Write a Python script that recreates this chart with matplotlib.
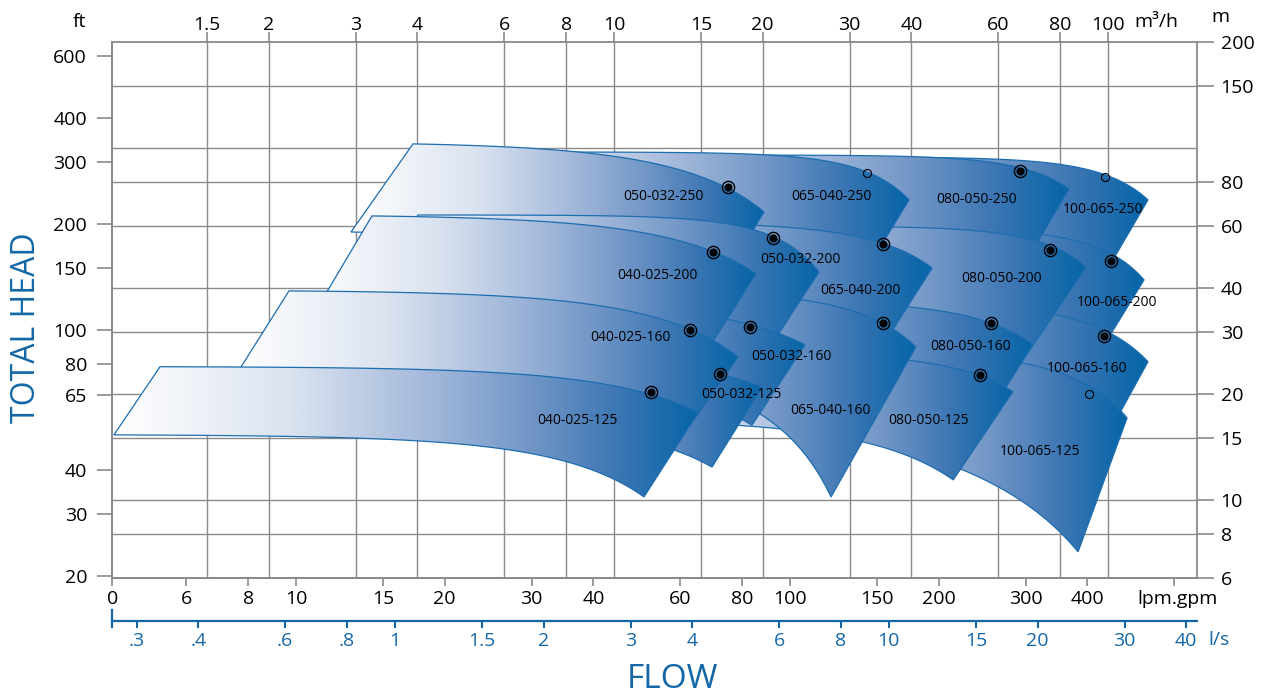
import numpy as np
import matplotlib
matplotlib.use("Agg")
import matplotlib.pyplot as plt
from matplotlib.path import Path
from matplotlib.patches import PathPatch
from matplotlib.image import AxesImage
from matplotlib.colors import LinearSegmentedColormap
from matplotlib.ticker import NullLocator

plt.rcParams["font.family"] = ["Open Sans", "DejaVu Sans"]

BLUE = "#1467a6"
GRID = "#8a8a8a"
EDGE = "#1c6db0"

# ---- axis ticks -------------------------------------------------------
m3h_ticks = [1.5, 2, 3, 4, 6, 8, 10, 15, 20, 30, 40, 60, 80, 100]
m3h_labels = ["1.5", "2", "3", "4", "6", "8", "10", "15", "20", "30", "40", "60", "80", "100"]
m_ticks = [6, 8, 10, 15, 20, 30, 40, 60, 80, 150, 200]
m_grid = [8, 10, 15, 20, 30, 40, 60, 80, 100, 150]
ft_ticks = [20, 30, 40, 65, 80, 100, 150, 200, 300, 400, 600]
gpm_ticks = [4.25, 6, 8, 10, 15, 20, 30, 40, 60, 80, 100, 150, 200, 300, 400, 600]
gpm_labels = ["0", "6", "8", "10", "15", "20", "30", "40", "60", "80", "100", "150",
              "200", "300", "400", ""]
ls_ticks = [0.3, 0.4, 0.6, 0.8, 1, 1.5, 2, 3, 4, 6, 8, 10, 15, 20, 30, 40]
ls_labels = [".3", ".4", ".6", ".8", "1", "1.5", "2", "3", "4", "6", "8", "10", "15",
             "20", "30", "40"]

# ---- pump ranges (flow m3/h, head m), listed back to front ------------
names = ["100-065-250", "100-065-200", "100-065-160", "100-065-125",
         "080-050-250", "080-050-200", "080-050-160", "080-050-125",
         "065-040-250", "065-040-200", "065-040-160",
         "050-032-250", "050-032-200", "050-032-160", "050-032-125",
         "040-025-200", "040-025-160", "040-025-125"]
tl_q = [11.29, 11.29, 11.29, 11.83, 7.78, 9.37, 7.78, 9.37, 5.11, 5.355, 5.355,
        3.918, 4.01, 4.05, 3.975, 3.236, 2.198, 1.205]
tl_h = [94.3, 59.3, 37.0, 26.7, 95.5, 60.0, 37.0, 26.3, 97.4, 61.6, 39.5,
        102.7, 64.5, 37.0, 26.5, 64.1, 39.25, 23.9]
tr_q = [120.5, 118.3, 120.5, 109.3, 83.4, 90.3, 70.5, 64.2, 39.56, 44.04, 40.84,
        20.12, 26.0, 24.36, 19.94, 19.38, 17.83, 14.8]
tr_h = [71.2, 42.2, 24.7, 17.1, 76.5, 45.9, 27.6, 20.3, 71.2, 45.6, 27.2,
        65.8, 44.4, 27.6, 20.9, 43.9, 25.5, 17.7]
br_q = [100.9, 94.1, 98.6, 86.97, 69.5, 69.5, 56.4, 48.6, 31.5, 34.56, 27.5,
        16.09, 20.5, 19.02, 15.79, 15.36, 14.25, 11.5]
br_h = [46.5, 25.0, 14.8, 7.12, 49.7, 26.7, 16.9, 11.4, 42.2, 26.7, 10.2,
        39.0, 26.7, 16.3, 12.4, 26.3, 16.3, 10.2]
bl_q = [9.37, 9.37, 9.37, 30.0, 6.45, 7.78, 6.45, 7.78, 3.864, 4.05, 4.443,
        2.935, 2.788, 3.207, 3.19, 2.314, 1.717, 0.972]
bl_h = [53.0, 32.5, 23.4, 15.07, 53.0, 34.7, 25.0, 16.9, 54.8, 32.5, 25.0,
        57.7, 30.4, 23.1, 17.1, 29.0, 22.65, 15.3]
top_power = [4, 4, 3, 3, 4, 4, 3, 3, 4, 3, 3, 2, 4, 2, 2, 2, 2, 2]
bot_power = [2, 2, 2, 1, 2, 2, 2, 2, 2, 2, 2, 2, 2, 2, 2, 2, 2, 2]
label_q = [97.7, 104.3, 90.7, 72.8, 54.3, 61.0, 52.8, 43.4, 27.5, 31.5, 27.36,
           12.57, 23.8, 22.82, 18.07, 12.22, 10.82, 8.42]
label_h = [66.7, 36.5, 23.7, 13.7, 71.2, 42.7, 27.2, 16.8, 72.6, 39.3, 18.0,
           72.6, 48.1, 25.5, 19.9, 43.3, 29.0, 16.8]

# best efficiency points
bep_q = [17.01, 66.3, 15.9, 20.99, 34.96, 76.3, 101.4, 14.25, 18.85, 34.96, 57.95,
         98.2, 11.86, 16.39, 55.06]
bep_h = [77.5, 86.2, 50.5, 55.5, 53.2, 51.3, 47.8, 30.4, 31.0, 31.8, 31.8,
         29.3, 20.3, 22.8, 22.6]
open_q = [32.46, 98.4, 91.5]
open_h = [85.1, 82.9, 20.0]

fig = plt.figure(figsize=(12.67, 6.96), dpi=100)
ax = fig.add_axes([112 / 1267, 118 / 696, 1085 / 1267, 536 / 696])
ax.set_xscale("log")
ax.set_yscale("log")
XLIM = (0.9634, 151.4)
YLIM = (6, 200)
ax.set_xlim(*XLIM)
ax.set_ylim(*YLIM)

for q in m3h_ticks:
    ax.axvline(q, color=GRID, lw=1.0, zorder=0.5)
for h in m_grid:
    ax.axhline(h, color=GRID, lw=1.0, zorder=0.5)

cmap = LinearSegmentedColormap.from_list(
    "pump", [(0, "#ffffff"), (0.3, "#dbe3f0"), (0.55, "#a0b6d9"),
             (0.72, "#6f95c6"), (0.87, "#3a75b3"), (1.0, "#0565a7")])
grad = np.linspace(0, 1, 256).reshape(1, -1)


def curve(q0, h0, q1, h1, n, num=80):
    k = (h0 - h1) / (q1 ** n - q0 ** n)
    c = h0 + k * q0 ** n
    q = np.geomspace(q0, q1, num)
    return q, c - k * q ** n


def axfrac(q, h):
    return ax.transAxes.inverted().transform(ax.transData.transform((q, h)))


for i, name in enumerate(names):
    z = 10 + i
    tq, th = curve(tl_q[i], tl_h[i], tr_q[i], tr_h[i], top_power[i])
    bq, bh = curve(bl_q[i], bl_h[i], br_q[i], br_h[i], bot_power[i])
    verts = np.vstack([np.column_stack([tq, th]),
                       np.column_stack([bq[::-1], bh[::-1]]),
                       [[tq[0], th[0]]]])
    codes = [Path.MOVETO] + [Path.LINETO] * (len(verts) - 2) + [Path.CLOSEPOLY]
    patch = PathPatch(Path(verts, codes), facecolor="none", edgecolor=EDGE,
                      lw=0.9, zorder=z + 0.5)
    ax.add_patch(patch)
    u0 = axfrac(min(tl_q[i], bl_q[i]), tl_h[i])[0]
    u1 = axfrac(tr_q[i], tr_h[i])[0]
    im = AxesImage(ax, cmap=cmap, interpolation="bilinear",
                   extent=[u0, u1, 0, 1], transform=ax.transAxes, zorder=z)
    im.set_data(grad)
    im.set_clip_path(patch)
    ax.add_image(im)
    ax.text(label_q[i], label_h[i], name, ha="center", va="center",
            fontsize=10, color="black", zorder=200)

ax.plot(bep_q, bep_h, "o", ms=8.8, mfc="none", mec="black", mew=1.0, zorder=210)
ax.plot(bep_q, bep_h, "o", ms=4.8, color="black", zorder=211)
ax.plot(open_q, open_h, "o", ms=5.8, mfc="none", mec="black", mew=0.8, zorder=210)

ax.set_xlim(*XLIM)
ax.set_ylim(*YLIM)

for s in ax.spines.values():
    s.set_color(GRID)
    s.set_linewidth(1.3)

# top axis: m3/h
ax.xaxis.set_ticks_position("top")
ax.set_xticks(m3h_ticks, m3h_labels)
ax.xaxis.set_minor_locator(NullLocator())
ax.tick_params(axis="x", which="major", direction="out", length=7, width=1.2,
               color=GRID, pad=-1, labelsize=14)

# right axis: m
ax.yaxis.set_ticks_position("right")
ax.set_yticks(m_ticks, [str(v) for v in m_ticks])
ax.yaxis.set_minor_locator(NullLocator())
ax.tick_params(axis="y", which="major", direction="out", length=12, width=1.2,
               color=GRID, pad=5, labelsize=14)

# left axis: ft
sec_ft = ax.secondary_yaxis("left", functions=(lambda m: m / 0.3048, lambda f: f * 0.3048))
sec_ft.set_yticks(ft_ticks, [str(v) for v in ft_ticks])
sec_ft.yaxis.set_minor_locator(NullLocator())
sec_ft.tick_params(direction="out", length=11, width=1.2, color=GRID, pad=7, labelsize=14)
sec_ft.spines["left"].set_color(GRID)
sec_ft.spines["left"].set_linewidth(1.3)

# bottom axis: gpm
sec_gpm = ax.secondary_xaxis("bottom", functions=(lambda q: q / 0.2271, lambda g: g * 0.2271))
sec_gpm.set_xticks(gpm_ticks, gpm_labels)
sec_gpm.xaxis.set_minor_locator(NullLocator())
sec_gpm.tick_params(direction="out", length=6, width=1.2, color=GRID, pad=3, labelsize=14)
sec_gpm.spines["bottom"].set_color(GRID)
sec_gpm.spines["bottom"].set_linewidth(1.3)

# l/s axis
sec_ls = ax.secondary_xaxis(-0.0802, functions=(lambda q: q / 3.6, lambda l: l * 3.6))
sec_ls.set_xticks(ls_ticks, ls_labels)
sec_ls.xaxis.set_minor_locator(NullLocator())
sec_ls.tick_params(direction="out", length=5, width=1.5, color=BLUE, labelcolor=BLUE,
                   pad=3, labelsize=14)
sec_ls.spines["bottom"].set_color(BLUE)
sec_ls.spines["bottom"].set_linewidth(1.6)
ax.plot([0, 0], [-0.06, -0.0915], transform=ax.transAxes, color=BLUE, lw=1.6,
        clip_on=False, zorder=5)

W, H = 1267, 696
fig.text(79 / W, 1 - 22 / H, "ft", ha="center", va="center", fontsize=14)
fig.text(1156 / W, 1 - 22 / H, "m³/h", ha="center", va="center", fontsize=14)
fig.text(1220 / W, 1 - 17 / H, "m", ha="center", va="center", fontsize=14)
fig.text(1178 / W, 1 - 599 / H, "lpm.gpm", ha="center", va="center", fontsize=14)
fig.text(1219 / W, 1 - 640 / H, "l/s", ha="center", va="center", fontsize=14, color=BLUE)
fig.text(673 / W, 1 - 680 / H, "FLOW", ha="center", va="center", fontsize=24, color=BLUE)
fig.text(27 / W, 1 - 328 / H, "TOTAL HEAD", ha="center", va="center", fontsize=23,
         color=BLUE, rotation=90)

fig.savefig("out.png", dpi=100)
